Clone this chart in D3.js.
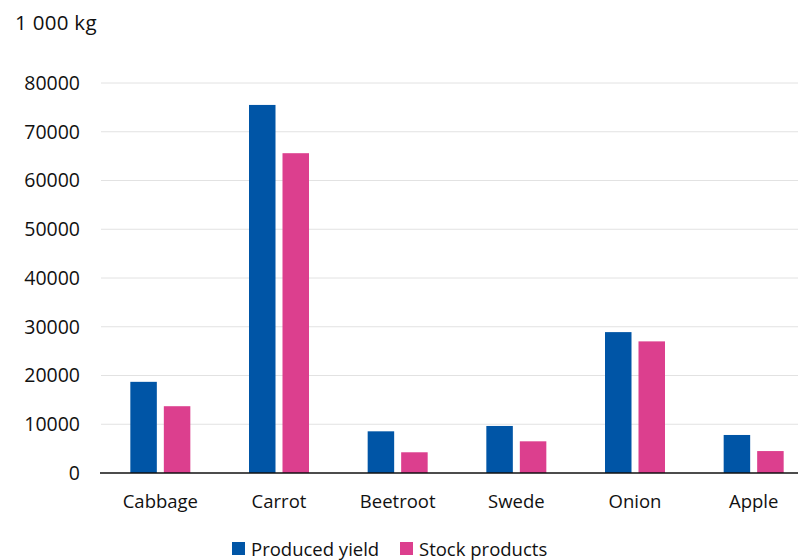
<!DOCTYPE html>
<html>
<head>
<meta charset="utf-8">
<script src="https://cdn.jsdelivr.net/npm/d3@7"></script>
<style>
  html, body { margin: 0; padding: 0; background: #fff; }
  svg { display: block; font-family: "Open Sans", "Liberation Sans", sans-serif; }
</style>
</head>
<body>
<svg id="chart" width="798" height="560"></svg>
<script>
// Harvest and stock volumes, thousands of kilograms
const categories = ["Cabbage", "Carrot", "Beetroot", "Swede", "Onion", "Apple"];
const producedYield = [18700, 75500, 8550, 9650, 28900, 7800];
const stockProducts = [13700, 65600, 4250, 6500, 27000, 4500];
const seriesNames = ["Produced yield", "Stock products"];
const yTicks = [0, 10000, 20000, 30000, 40000, 50000, 60000, 70000, 80000];
const unitLabel = "1 000 kg";

const colors = ["#0055A6", "#DC3F8E"];
const series = [producedYield, stockProducts];

const svg = d3.select("#chart");
const margin = { left: 101, top: 83, bottom: 473 };
const plotRight = 813;

const x = d3.scaleBand().domain(categories).range([margin.left, plotRight]).paddingInner(0).paddingOuter(0);
const y = d3.scaleLinear().domain([0, 80000]).range([margin.bottom, margin.top]);

const barW = 26.5, barGap = 7;
const groupW = barW * 2 + barGap;

// horizontal gridlines
svg.append("g").selectAll("line").data(yTicks.filter(d => d > 0)).join("line")
  .attr("x1", margin.left).attr("x2", 798)
  .attr("y1", d => y(d)).attr("y2", d => y(d))
  .attr("stroke", "#e2e2e2").attr("stroke-width", 1);

// y-axis tick labels
const yAxis = d3.axisLeft(y).tickValues(yTicks).tickFormat(d => String(d)).tickSize(0).tickPadding(0);
const yg = svg.append("g").attr("transform", "translate(80,0)").call(yAxis);
yg.select(".domain").remove();
yg.selectAll("text").attr("font-size", 19.5).attr("fill", "#111").attr("font-family", "'Open Sans', sans-serif");

// bars
series.forEach((vals, si) => {
  svg.append("g").selectAll("rect").data(categories).join("rect")
    .attr("x", (c) => x(c) + x.bandwidth() / 2 - groupW / 2 + si * (barW + barGap))
    .attr("y", (c, i) => y(vals[i]))
    .attr("width", barW)
    .attr("height", (c, i) => y(0) - y(vals[i]))
    .attr("fill", colors[si]);
});

// baseline
svg.append("line").attr("x1", 100).attr("x2", 798)
  .attr("y1", y(0)).attr("y2", y(0))
  .attr("stroke", "#111").attr("stroke-width", 1.6);

// category labels
const xAxis = d3.axisBottom(x).tickSize(0).tickPadding(0);
const xg = svg.append("g").attr("transform", `translate(0,${y(0) + 22})`).call(xAxis);
xg.select(".domain").remove();
xg.selectAll("text").attr("font-size", 18.5).attr("fill", "#111").attr("font-family", "'Open Sans', sans-serif");

// unit label
svg.append("text").attr("x", 15).attr("y", 30).text(unitLabel)
  .attr("font-size", 20.5).attr("letter-spacing", 0.3).attr("fill", "#111");

// legend
const legend = svg.append("g");
const legendItems = [{ x: 232 }, { x: 400 }];
seriesNames.forEach((name, i) => {
  const g = legend.append("g").attr("transform", `translate(${legendItems[i].x},0)`);
  g.append("rect").attr("x", 0).attr("y", 542).attr("width", 13).attr("height", 13).attr("fill", colors[i]);
  g.append("text").attr("x", 19).attr("y", 555.5).text(name).attr("font-size", 18.5).attr("fill", "#111");
});
</script>
</body>
</html>
